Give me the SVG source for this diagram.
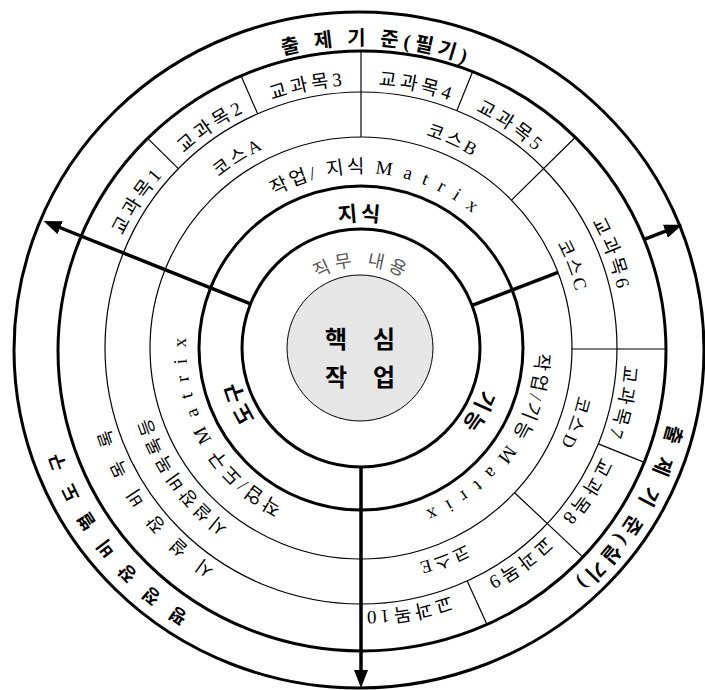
<svg xmlns="http://www.w3.org/2000/svg" width="705" height="690" viewBox="0 0 705 690">
<style>
.thick{fill:none;stroke:#000;stroke-width:3}
.thin{fill:none;stroke:#000;stroke-width:1.2}
.div{stroke:#000;stroke-width:1.2}
.arr{stroke:#000;stroke-width:3.5;fill:none}
.t{font-family:'Liberation Serif','Noto Sans CJK KR',serif;font-size:18px;fill:#000;text-anchor:middle;dominant-baseline:central}
.b{font-family:'Noto Sans CJK KR',sans-serif;font-weight:bold;fill:#000;text-anchor:middle;dominant-baseline:central}
.subj{font-size:19px;letter-spacing:4px}
.course{letter-spacing:3.5px}
.mat{font-size:19px;letter-spacing:3.5px}
.std{font-size:20px;font-weight:bold;letter-spacing:5px}
</style>
<defs>
<marker id="ah" markerUnits="userSpaceOnUse" markerWidth="18" markerHeight="14" refX="10" refY="7" orient="auto"><path d="M0,0 L18,7 L0,14 z" fill="#000"/></marker>
<path id="p310" d="M51,348 A310,310 0 0 1 671,348"/>
<path id="p324" d="M37,348 A324,324 0 0 1 685,348"/>
<path id="p270" d="M91,348 A270,270 0 0 1 631,348"/>
<path id="p228" d="M133,348 A228,228 0 0 1 589,348"/>
<path id="p182" d="M179,348 A182,182 0 0 1 543,348"/>
<path id="p136" d="M225,348 A136,136 0 0 1 497,348"/>
<path id="p88" d="M273,348 A88,88 0 0 1 449,348"/>
</defs>

<g id="rings">
<ellipse class="thick" cx="359" cy="350" rx="345" ry="338"/>
<ellipse class="thick" cx="362" cy="351" rx="304" ry="300"/>
<circle class="thin" cx="361" cy="348" r="256"/>
<circle class="thin" cx="361" cy="348" r="211"/>
<circle class="thick" cx="361" cy="348" r="162"/>
<circle class="thick" cx="361" cy="348" r="119"/>
</g>

<g id="core">
<circle cx="360" cy="348" r="73" fill="#e6e6e6" stroke="#000" stroke-width="1"/>
<text class="b" x="336" y="337" font-size="24">핵</text>
<text class="b" x="384" y="337" font-size="24">심</text>
<text class="b" x="336" y="375" font-size="24">작</text>
<text class="b" x="384" y="375" font-size="24">업</text>
</g>

<g id="dividers">
<line class="div" x1="361" y1="137" x2="361" y2="51"/>
<line class="div" x1="257.7" y1="113.8" x2="241" y2="75.8"/>
<line class="div" x1="456.9" y1="110.6" x2="472.7" y2="71.6"/>
<line class="div" x1="178.4" y1="168.6" x2="147.7" y2="138.4"/>
<line class="div" x1="511.5" y1="200.1" x2="575.4" y2="137.3"/>
<line class="div" x1="572" y1="349" x2="666" y2="349"/>
<line class="div" x1="598.4" y1="443.9" x2="644.3" y2="462.4"/>
<line class="div" x1="514.6" y1="492.7" x2="582.9" y2="557.1"/>
<line class="div" x1="467.2" y1="581" x2="487" y2="624.5"/>
</g>

<g id="connectors">
<line class="arr" x1="250.5" y1="303.8" x2="50.9" y2="224" marker-end="url(#ah)"/>
<line class="arr" x1="472.1" y1="305.4" x2="558" y2="272.4"/>
<line class="arr" x1="644.2" y1="239.3" x2="674.7" y2="227.6" marker-end="url(#ah)"/>
<line class="arr" x1="361" y1="467" x2="361" y2="680" marker-end="url(#ah)"/>
</g>

<g id="outer-labels">
<g transform="rotate(3 361 348)"><text class="t std"><textPath href="#p310" startOffset="50%">출 제 기 준(필기)</textPath></text></g>
<g transform="rotate(121 361 348)"><text class="t std"><textPath href="#p324" startOffset="50%">출 제 기 준(실기)</textPath></text></g>
<g transform="rotate(232.4 361 348)"><text class="t" font-size="20" font-weight="bold" letter-spacing="6"><textPath href="#p324" startOffset="50%">평 정 장 비 별 도 구</textPath></text></g>
</g>

<g id="subject-labels">
<g transform="rotate(-56.5 361 348)"><text class="t subj"><textPath href="#p270" startOffset="50%">교과목1</textPath></text></g>
<g transform="rotate(-34 361 348)"><text class="t subj"><textPath href="#p270" startOffset="50%">교과목2</textPath></text></g>
<g transform="rotate(-11.5 361 348)"><text class="t subj"><textPath href="#p270" startOffset="50%">교과목3</textPath></text></g>
<g transform="rotate(12.1 361 348)"><text class="t subj"><textPath href="#p270" startOffset="50%">교과목4</textPath></text></g>
<g transform="rotate(34.1 361 348)"><text class="t subj"><textPath href="#p270" startOffset="50%">교과목5</textPath></text></g>
<g transform="rotate(69.6 361 348)"><text class="t subj"><textPath href="#p270" startOffset="50%">교과목6</textPath></text></g>
<g transform="rotate(102 361 348)"><text class="t subj"><textPath href="#p270" startOffset="50%">교과목7</textPath></text></g>
<g transform="rotate(122.7 361 348)"><text class="t subj"><textPath href="#p270" startOffset="50%">교과목8</textPath></text></g>
<g transform="rotate(143.8 361 348)"><text class="t subj"><textPath href="#p270" startOffset="50%">교과목9</textPath></text></g>
<g transform="rotate(169.9 361 348)"><text class="t subj"><textPath href="#p270" startOffset="50%">교과목10</textPath></text></g>
<g transform="rotate(233.5 361 348)"><text class="t" letter-spacing="6"><textPath href="#p270" startOffset="50%">시 설 장 비 목 록</textPath></text></g>
</g>

<g id="course-labels">
<g transform="rotate(-32.6 361 348)"><text class="t course"><textPath href="#p228" startOffset="50%">코스A</textPath></text></g>
<g transform="rotate(24 361 348)"><text class="t course"><textPath href="#p228" startOffset="50%">코스B</textPath></text></g>
<g transform="rotate(69 361 348)"><text class="t course"><textPath href="#p228" startOffset="50%">코스C</textPath></text></g>
<g transform="rotate(109.5 361 348)"><text class="t course"><textPath href="#p228" startOffset="50%">코스D</textPath></text></g>
<g transform="rotate(158.8 361 348)"><text class="t course"><textPath href="#p228" startOffset="50%">코스E</textPath></text></g>
<g transform="rotate(234.7 361 348)"><text class="t" letter-spacing="4"><textPath href="#p228" startOffset="50%">시설장비목록등</textPath></text></g>
</g>

<g id="matrix-labels">
<g transform="rotate(5.5 361 348)"><text class="t mat"><textPath href="#p182" startOffset="50%">작업/ 지식 M a t r i x</textPath></text></g>
<g transform="rotate(125.5 361 348)"><text class="t mat"><textPath href="#p182" startOffset="50%">작업/기능 M a t r i x</textPath></text></g>
<g transform="rotate(240.5 361 348)"><text class="t mat"><textPath href="#p182" startOffset="50%">작업/도구 M a t r i x</textPath></text></g>
</g>

<g id="ksa-labels">
<g><text class="b" font-size="21" letter-spacing="4"><textPath href="#p136" startOffset="50%">지식</textPath></text></g>
<g transform="rotate(119 361 348)"><text class="b" font-size="21" letter-spacing="4"><textPath href="#p136" startOffset="50%">기능</textPath></text></g>
<g transform="rotate(246.4 361 348)"><text class="b" font-size="21" letter-spacing="4"><textPath href="#p136" startOffset="50%">도구</textPath></text></g>
</g>

<g id="duty-label">
<g transform="rotate(1 361 348)"><text class="t" font-size="17" letter-spacing="6" style="fill:#555"><textPath href="#p88" startOffset="50%">직무 내용</textPath></text></g>
</g>
</svg>
